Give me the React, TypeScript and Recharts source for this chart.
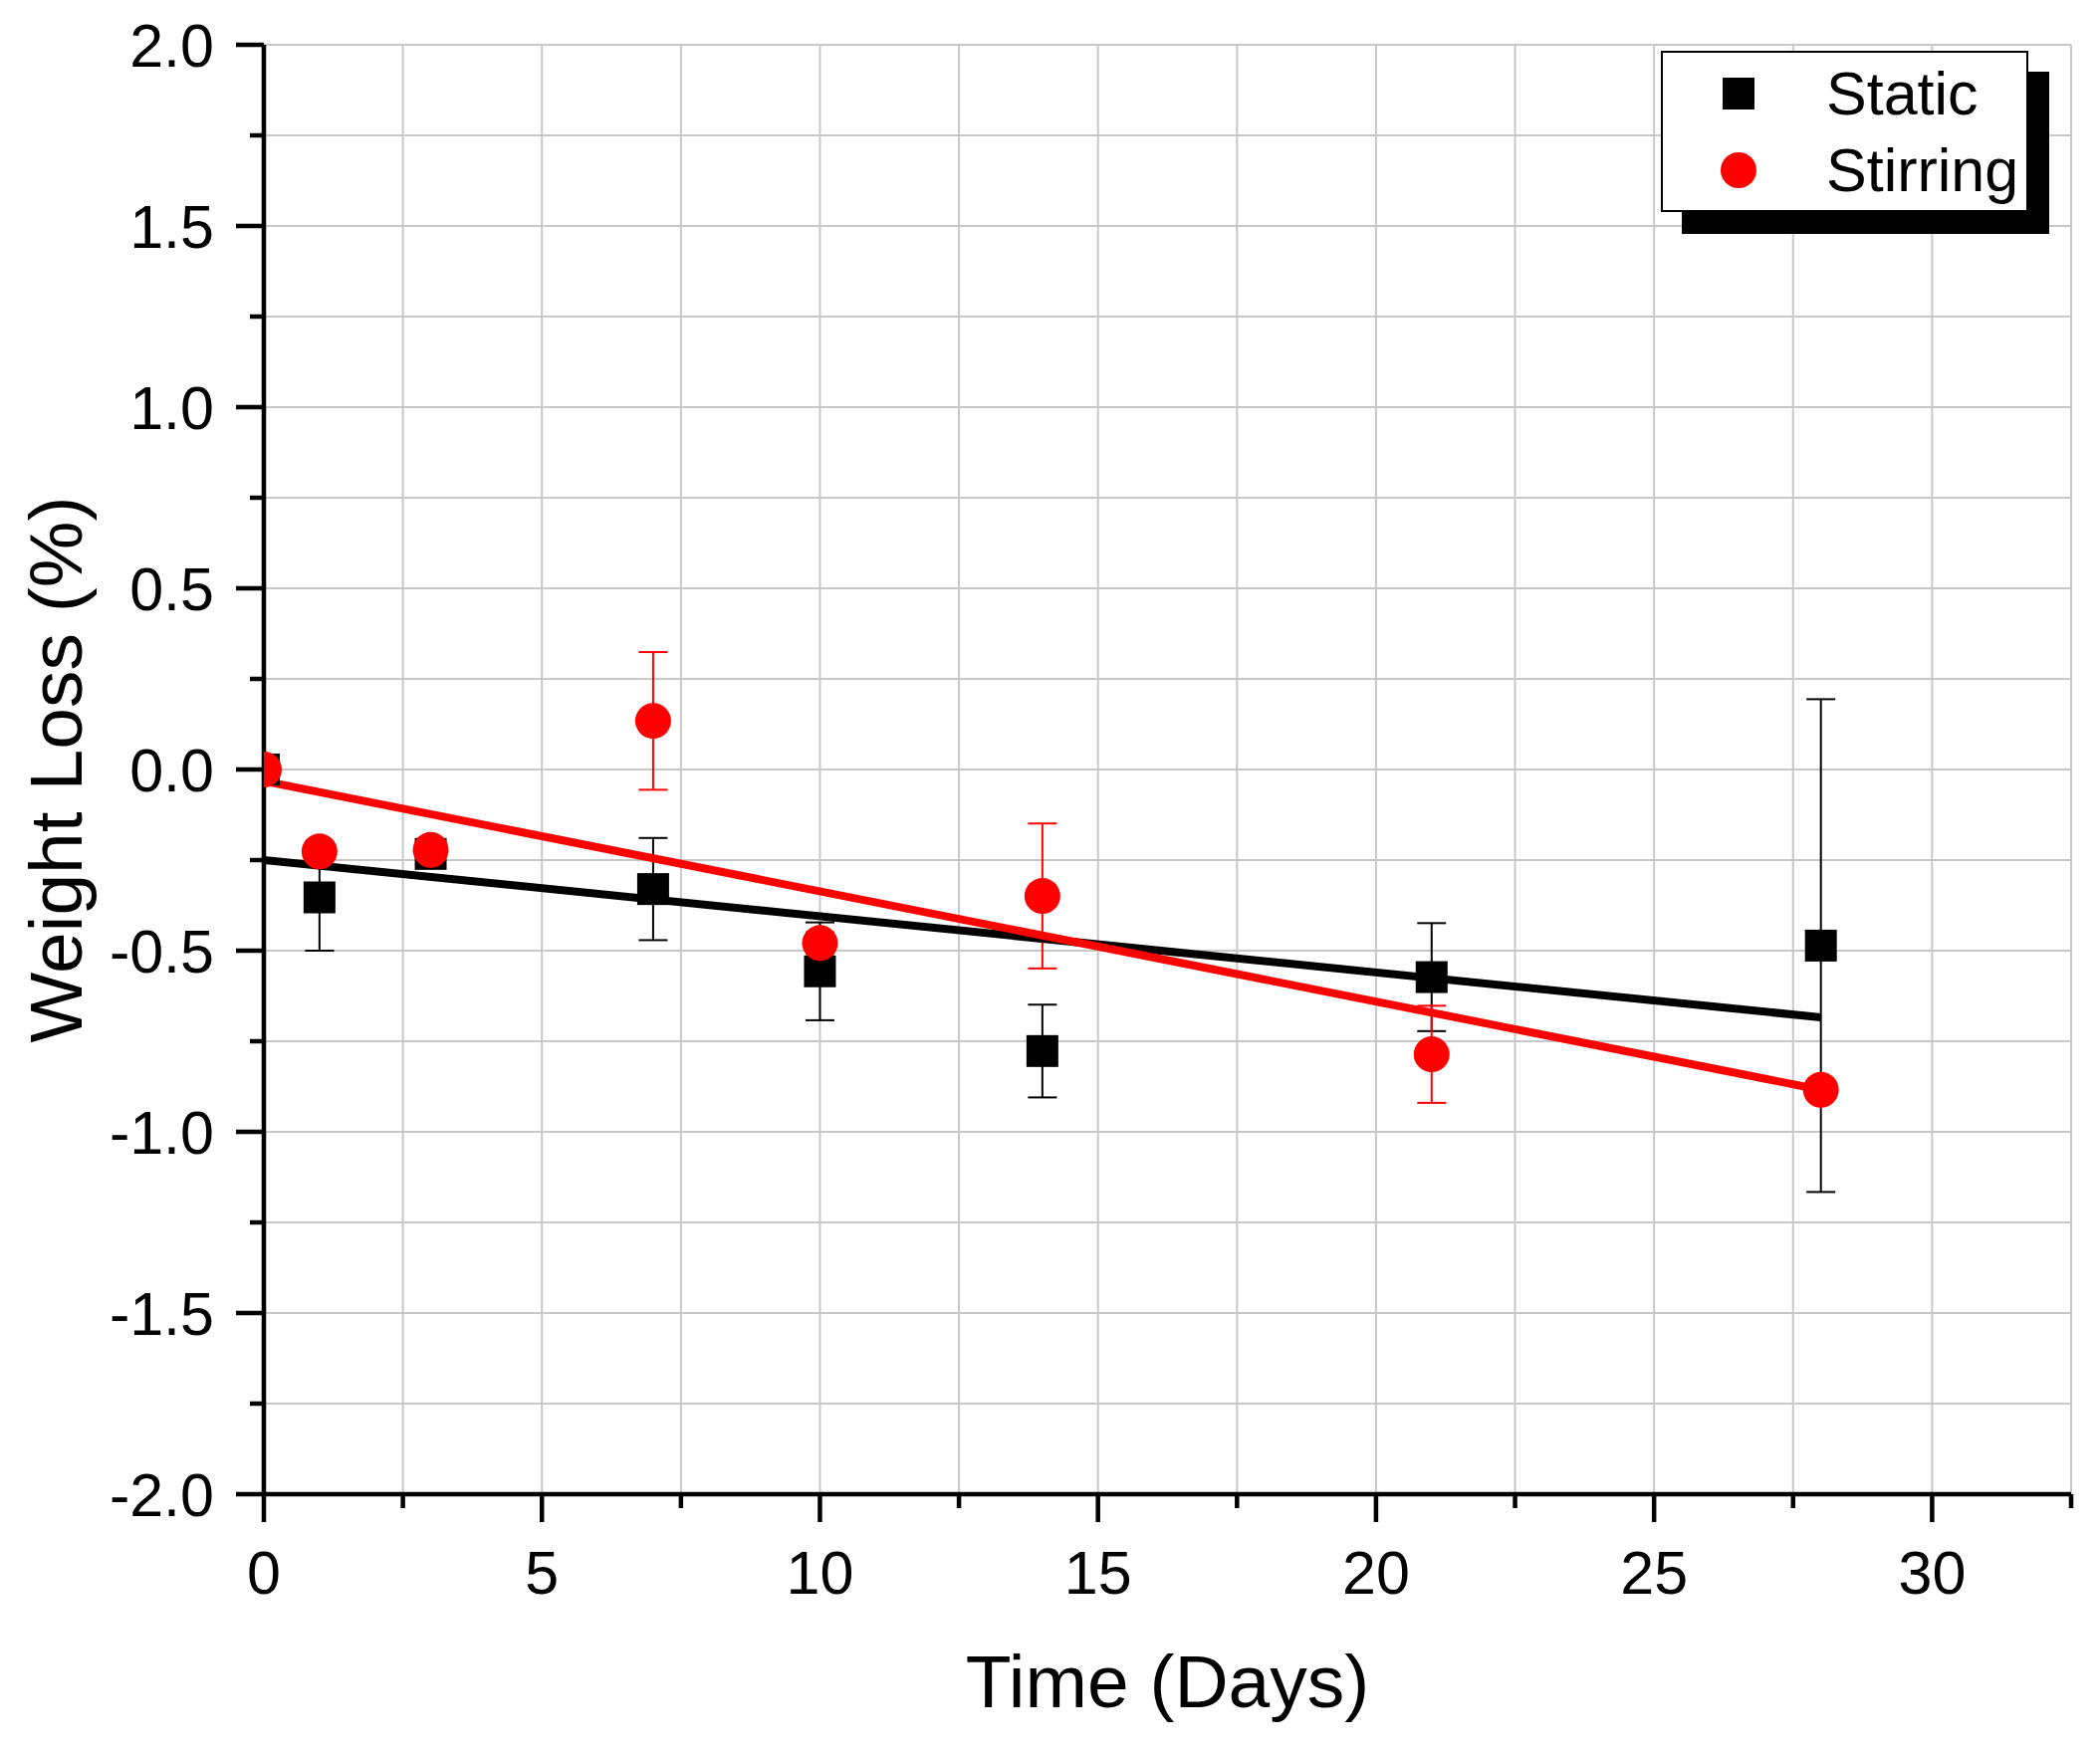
import React from "react";
import { ComposedChart, Scatter, Line, XAxis, YAxis, CartesianGrid, ErrorBar, Legend, Label } from "recharts";

const DAYS = [0, 1, 3, 7, 10, 14, 21, 28];
const STATIC_MEAN = [0, -0.353, -0.233, -0.33, -0.557, -0.777, -0.573, -0.486];
const STATIC_ERR = [0, 0.147, 0.028, 0.141, 0.135, 0.128, 0.149, 0.68];
const STIRRING_MEAN = [0, -0.226, -0.222, 0.134, -0.479, -0.349, -0.786, -0.884];
const STIRRING_ERR = [0, 0.02, 0.02, 0.19, 0.03, 0.2, 0.134, 0.01];

// linear fits at their two ends
const FIT_DAYS = [0, 28];
const STATIC_FIT = [-0.25, -0.684];
const STIRRING_FIT = [-0.032, -0.884];

const SERIES = ["Static", "Stirring"];
const X_TICKS = [0, 2.5, 5, 7.5, 10, 12.5, 15, 17.5, 20, 22.5, 25, 27.5, 30, 32.5];
const Y_TICKS = [-2, -1.75, -1.5, -1.25, -1, -0.75, -0.5, -0.25, 0, 0.25, 0.5, 0.75, 1, 1.25, 1.5, 1.75, 2];

const FONT = "'Liberation Sans', Arial, sans-serif";

const points = (means: number[], errs: number[]) =>
  DAYS.map((x, i) => ({ x, y: means[i], err: errs[i] }));
const fit = (vals: number[]) => FIT_DAYS.map((x, i) => ({ x, y: vals[i] }));

const staticData = points(STATIC_MEAN, STATIC_ERR);
const stirringData = points(STIRRING_MEAN, STIRRING_ERR);

const isMajor = (v: number, step: number) => Math.abs(v / step - Math.round(v / step)) < 1e-6;

const XTick = (props: any) => {
  const { x, y, payload } = props;
  const v = payload.value;
  const major = isMajor(v, 5);
  return (
    <g>
      <line x1={x} x2={x} y1={y} y2={y + (major ? 28 : 14)} stroke="#000" strokeWidth={4.5} />
      {major && (
        <text x={x} y={y + 100} textAnchor="middle" fontSize={61} fontFamily={FONT} fill="#000">
          {v}
        </text>
      )}
    </g>
  );
};

const YTick = (props: any) => {
  const { x, y, payload } = props;
  const v = payload.value;
  const major = isMajor(v, 0.5);
  return (
    <g>
      <line x1={x - (major ? 28 : 14)} x2={x} y1={y} y2={y} stroke="#000" strokeWidth={4.5} />
      {major && (
        <text x={x - 50} y={y} dy="0.36em" textAnchor="end" fontSize={61} fontFamily={FONT} fill="#000">
          {v.toFixed(1)}
        </text>
      )}
    </g>
  );
};

const square = (p: any) => <rect x={p.cx - 16} y={p.cy - 16} width={32} height={32} fill="#000" />;
const circle = (p: any) => <circle cx={p.cx} cy={p.cy} r={18} fill="#ff0000" />;

const LegendBox = () => (
  <svg width={392} height={186} style={{ overflow: "visible", display: "block" }}>
    <rect x={21} y={21} width={369} height={163} fill="#000" />
    <rect x={1} y={1} width={367} height={160} fill="#fff" stroke="#000" strokeWidth={2} />
    <rect x={62} y={27} width={32} height={32} fill="#000" />
    <circle cx={78} cy={120} r={18} fill="#ff0000" />
    <text x={166} y={64} fontSize={61} fontFamily={FONT} fill="#000">{SERIES[0]}</text>
    <text x={166} y={141} fontSize={61} fontFamily={FONT} fill="#000">{SERIES[1]}</text>
  </svg>
);

const XTitle = (props: any) => {
  const vb = props.viewBox || { x: 265, y: 1501, width: 1815 };
  return (
    <text x={vb.x + vb.width / 2} y={vb.y + 214} textAnchor="middle" fontSize={75} fontFamily={FONT} fill="#000">
      Time (Days)
    </text>
  );
};

const YTitle = (props: any) => {
  const vb = props.viewBox || { y: 45, height: 1456 };
  const cy = vb.y + vb.height / 2;
  return (
    <text x={82} y={cy} transform={`rotate(-90, 82, ${cy})`} textAnchor="middle" fontSize={75} fontFamily={FONT} fill="#000">
      Weight Loss (%)
    </text>
  );
};

export default function App() {
  return (
    <div style={{ position: "absolute", left: 0, top: 0, background: "#fff" }}>
      <ComposedChart width={2100} height={1750} margin={{ top: 45, right: 20, left: 65, bottom: 99 }}>
        <CartesianGrid stroke="#c8c8c8" strokeWidth={2} />
        <XAxis
          type="number"
          dataKey="x"
          domain={[0, 32.5]}
          ticks={X_TICKS}
          interval={0}
          allowDataOverflow
          height={150}
          tickSize={0}
          tickMargin={0}
          tickLine={false}
          tick={<XTick />}
          axisLine={{ stroke: "#000", strokeWidth: 4.5 }}
        >
          <Label content={<XTitle />} />
        </XAxis>
        <YAxis
          type="number"
          dataKey="y"
          domain={[-2, 2]}
          ticks={Y_TICKS}
          interval={0}
          allowDataOverflow
          width={200}
          tickSize={0}
          tickMargin={0}
          tickLine={false}
          tick={<YTick />}
          axisLine={{ stroke: "#000", strokeWidth: 4.5 }}
        >
          <Label content={<YTitle />} />
        </YAxis>
        <Legend
          layout="vertical"
          align="center"
          verticalAlign="middle"
          content={<LegendBox />}
          wrapperStyle={{ left: 1668, top: 51, width: 392, height: 186 }}
        />
        <Scatter name={SERIES[0]} data={staticData} dataKey="y" shape={square} isAnimationActive={false}>
          <ErrorBar dataKey="err" direction="y" width={14.5} stroke="#000" strokeWidth={2} isAnimationActive={false} />
        </Scatter>
        <Scatter name={SERIES[1]} data={stirringData} dataKey="y" shape={circle} isAnimationActive={false}>
          <ErrorBar dataKey="err" direction="y" width={14.5} stroke="#ff0000" strokeWidth={2} isAnimationActive={false} />
        </Scatter>
        <Line data={fit(STATIC_FIT)} dataKey="y" stroke="#000" strokeWidth={8} dot={false} legendType="none" isAnimationActive={false} />
        <Line data={fit(STIRRING_FIT)} dataKey="y" stroke="#ff0000" strokeWidth={8} dot={false} legendType="none" isAnimationActive={false} />
      </ComposedChart>
    </div>
  );
}
